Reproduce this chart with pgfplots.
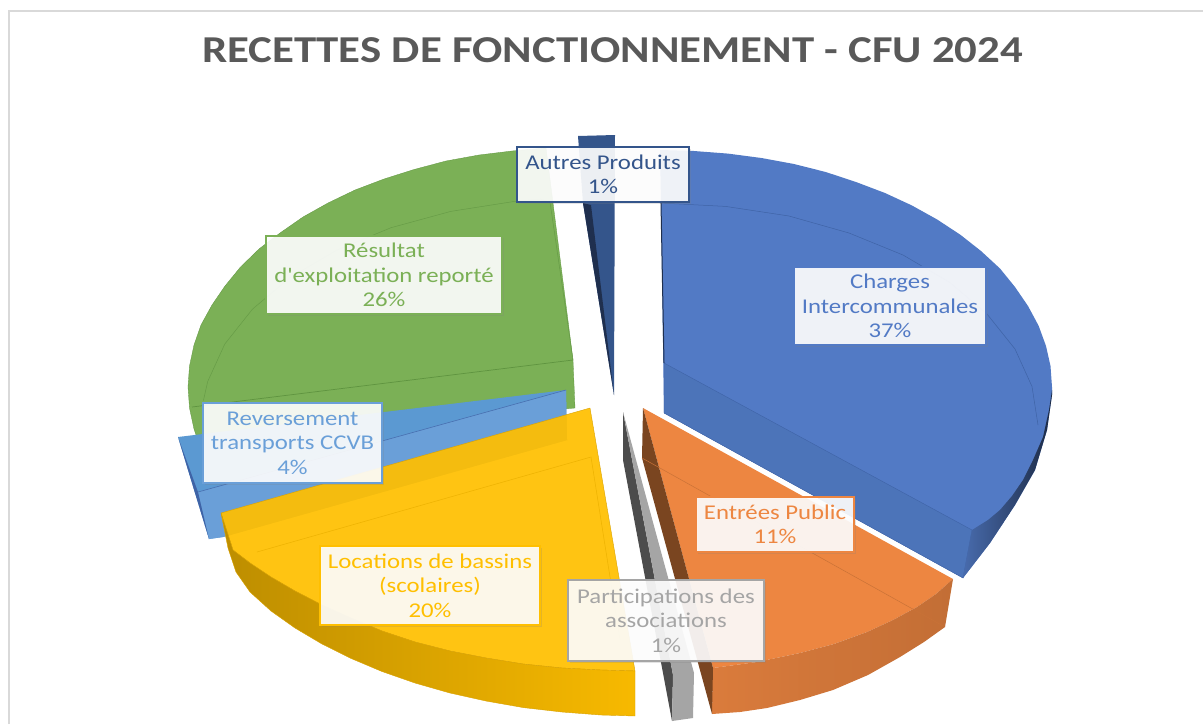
\documentclass[border=0pt]{standalone}
\usepackage{fontspec}
\setmainfont[FakeStretch=1.18,Ligatures=TeXOff]{Carlito}
\usepackage{pgfplots}
\pgfplotsset{compat=1.18}
\usetikzlibrary{shadows}
\definecolor{cBlue}{HTML}{527AC5}
\definecolor{cBlueD}{HTML}{4C74B9}
\definecolor{cBlueL}{HTML}{3F63A6}
\definecolor{cOrange}{HTML}{ED8641}
\definecolor{cOrangeD}{HTML}{7A4520}
\definecolor{cGreen}{HTML}{7BB056}
\definecolor{cGreenL}{HTML}{5F9440}
\definecolor{cYellow}{HTML}{FFBF00}
\definecolor{cSky}{HTML}{6A9FD8}
\definecolor{cSkyD}{HTML}{5B99D2}
\definecolor{cNavy}{HTML}{34558B}
\definecolor{cNavyD}{HTML}{1F2F4E}
\definecolor{cGray}{HTML}{A5A5A5}
\tikzset{lab/.style={draw=#1,text=#1,line width=1.6pt,fill=white,fill opacity=0.9,text opacity=1,
  align=center,inner sep=0pt,font=\fontsize{21}{24.5}\selectfont,
  drop shadow={shadow xshift=2pt,shadow yshift=-2pt,opacity=0.22}}}
\begin{document}
\begin{tikzpicture}
\useasboundingbox (0,0) rectangle (1203pt,724pt);
\begin{axis}[
  at={(0,0)},anchor=south west,
  scale only axis,width=1203pt,height=724pt,
  xmin=0,xmax=1203,ymin=0,ymax=724,y dir=reverse,
  axis lines=none,clip=true]
% frame
\addplot[line width=1.5pt,color=black!15] coordinates {(9,724)(9,11)(1203,11)};
% green slice, 26 %
\addplot[fill=cGreen,draw=cGreenL,line width=0.3pt] coordinates {
 (546,148)(512,151)(479,155)(446,161)(414,169.5)(384,179)(355,190)(328,203)(303,217)(280,233)
 (259,249)(240.5,267)(225,286)(212,305)(201,325)(194,345)(189.5,366)(188,387)(189.5,408)(194,429)(198,441)
 (575,408)(573,360)} -- cycle;
\addplot[color=cGreenL,line width=0.7pt] coordinates {(573,360)(192,407)};
\addplot[color=cGreenL!70!cGreen,line width=0.5pt] coordinates {
 (550,202)(540.5,199.2)(514.4,201.4)(450.7,211.4)(391,227.7)(337,250)(290.4,277.3)(252.6,309)(224.8,344)(207.7,381.5)(203.4,400.6)};
\addplot[color=cGreenL!70!cGreen,line width=0.5pt] coordinates {(550,202)(573,360)};
% light blue slice, 4 %
\addplot[fill=cSkyD,draw=none] coordinates {(178,437)(566,390)(567,440)(223,537)(209,539)} -- cycle;
\addplot[fill=cSky,draw=none] coordinates {(198,492)(566,390)(567,440)(223,537)(209,539)} -- cycle;
\addplot[fill=cBlueL,draw=none] coordinates {(178,437)(198,492)(209,539)} -- cycle;
\addplot[color=cBlueL!80!cSky,line width=0.6pt] coordinates {(566,390)(198,492)};
% yellow slice, 20 %
\addplot[fill=cYellow,fill opacity=0.93,draw=cYellow!85!black,line width=0.4pt] coordinates {
 (590,408)(635,671)(601,670)(562,668)(523,664)(486,658)(450,651)(415,642)(382,631)(351,618)(322,605)
 (295,591)(271,577)(250,563)(233,550)(221,513)} -- cycle;
\addplot[draw=cYellow!85!black,line width=0.4pt,left color=cYellow!74!black,right color=cYellow!97!black] coordinates {
 (221,513)(233,550)(250,563)(271,577)(295,591)(322,605)(351,618)(382,631)(415,642)(450,651)(486,658)
 (523,664)(562,668)(601,670)(635,671)(635,716)(601,715)(562,712)(523.5,707.6)(486,701)(450,693)(415,683)
 (382,671.5)(351,658.4)(322,644)(295,628)(271,611)(250,592)(236,572)(228,548)} -- cycle;
\addplot[color=cYellow!93!black,line width=0.5pt] coordinates {(591,457)(257,552)};
\addplot[color=cYellow!93!black,line width=0.5pt] coordinates {(591,457)(620,640)};
% navy slice, 1 %
\addplot[fill=cNavy,draw=none] coordinates {(578,136)(615,135)(614,395)(583,203)} -- cycle;
\addplot[fill=cNavyD,draw=none] coordinates {(583,203)(591,205)(614,395)} -- cycle;
% blue slice, 37 %
\addplot[fill=cBlue,draw=none] coordinates {
 (660,150)(694,151)(728,153.6)(761.5,158)(794,164)(825.7,172)(856,182)(885,193)(912,205.5)(937,219.4)(960.3,234.7)
 (981,251)(1000,268.5)(1015,287)(1028,306)(1038.6,325.7)(1046,346)(1050.5,366)(1052,387)(1052,395)(1047,430)
 (1035,470)(1015,505)(990,543)(963,578)(664,413)(661,203)} -- cycle;
\addplot[fill=cBlueD,draw=cBlueL,line width=0.4pt] coordinates {(664,363)(972,530)(963,578)(664,413)} -- cycle;
\addplot[draw=none,left color=cBlue!88!black,right color=cBlue!35!black] coordinates {
 (972,530)(988,520)(1000,510)(1012,496)(1023,480)(1033,460)(1043,437)(1049,410)(1052,390)(1052,395)(1047,430)
 (1035,470)(1015,505)(990,543)(963,578)} -- cycle;
\addplot[color=cBlueL,line width=0.5pt] coordinates {
 (660,203)(725.6,206.4)(789,216)(849,233)(903,255)(949.6,282.3)(987,314)(1015,349)(1032,386.5)(1038,425)};
\addplot[color=cNavyD,line width=1pt] coordinates {(661,203)(664,363)};
% orange slice, 11 %
\addplot[fill=cOrange,draw=none] coordinates {
 (643,408)(953,579)(936,594)(917,607)(893,620)(867,632)(834,644)(800,653)(757,662)(713,668)} -- cycle;
\addplot[draw=none,left color=cOrange!92!black,right color=cOrange!82!black] coordinates {
 (953,579)(936,594)(917,607)(893,620)(867,632)(834,644)(800,653)(757,662)(713,668)(712,714)(740,712)(767,708)
 (800,700)(833,690)(868,675)(900,657)(924,642)(945,627)} -- cycle;
\addplot[fill=cOrangeD,draw=none] coordinates {(643,408)(642,458)(712,714)(713,668)} -- cycle;
\addplot[color=cOrange!85!black,line width=0.5pt] coordinates {(642,458)(945,627)};
% gray slice, 1 %
\addplot[fill=black!70,draw=none] coordinates {(623,412)(623,460)(672,721)(673,675)} -- cycle;
\addplot[fill=cGray,draw=none] coordinates {(623,412)(694,673)(693,718)(672,721)(673,675)} -- cycle;
% data labels
\node[lab=cBlue,minimum width=192pt,minimum height=78pt] at (axis cs:890,306) {\raisebox{-1.5pt}{Charges}\\\raisebox{-1.5pt}{Intercommunales}\\\raisebox{-1.5pt}{37\%}};
\node[lab=cOrange,minimum width=158pt,minimum height=55pt] at (axis cs:775,524.5) {Entrées Public\\11\%};
\node[lab=cGray,minimum width=196pt,minimum height=81pt] at (axis cs:666,620.5) {Participations des\\associations\\1\%};
\node[lab=cYellow,minimum width=220pt,minimum height=79pt] at (axis cs:430,585.5) {Locations de bassins\\(scolaires)\\20\%};
\node[lab=cSky,minimum width=179pt,minimum height=80pt] at (axis cs:292.5,443) {Reversement\\transports CCVB\\4\%};
\node[lab=cGreen,minimum width=236pt,minimum height=78pt] at (axis cs:384,275) {Résultat\\d'exploitation reporté\\26\%};
\node[lab=cNavy,line width=2.2pt,minimum width=172pt,minimum height=55pt] at (axis cs:603,174.5) {Autres Produits\\1\%};
% title
\node[text=black!65,font=\fontsize{38}{40}\selectfont\bfseries] at (axis cs:612.5,50) {RECETTES DE FONCTIONNEMENT - CFU 2024};
\end{axis}
\end{tikzpicture}
\end{document}
